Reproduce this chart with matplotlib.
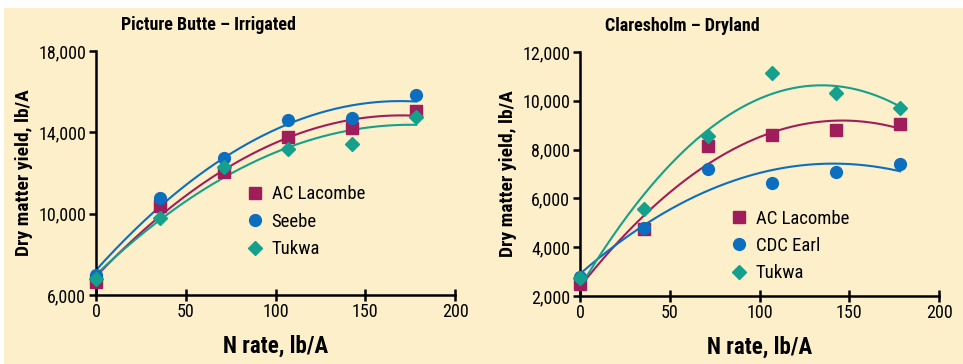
import numpy as np
import matplotlib
matplotlib.use("Agg")
import matplotlib.pyplot as plt
from matplotlib.patches import Rectangle

plt.rcParams['font.family'] = ['Roboto Condensed', 'DejaVu Sans']

# N rate, lb/A
n_rate = [0, 35.7, 71.4, 107.1, 142.7, 178.4]

# Picture Butte - Irrigated
pb_lacombe = [6640, 10380, 12050, 13790, 14230, 15050]
pb_seebe = [6970, 10760, 12720, 14590, 14700, 15840]
pb_tukwa = [6810, 9770, 12300, 13170, 13410, 14770]

# Claresholm - Dryland
cl_lacombe = [2510, 4730, 8150, 8600, 8810, 9040]
cl_earl = [2780, 4770, 7190, 6620, 7070, 7400]
cl_tukwa = [2720, 5560, 8540, 11140, 10340, 9690]

maroon = '#A01D5C'
blue = '#0B6EBE'
teal = '#14A08C'
bg = '#FCEFC9'

fig = plt.figure(figsize=(9.63, 3.64), dpi=100)
fig.patches.append(Rectangle((4 / 963, 0), 1, 1 - 8 / 364, transform=fig.transFigure,
                             facecolor=bg, edgecolor='none', zorder=-10))


def panel(rect, title, series, yticks):
    ax = fig.add_axes(rect)
    ax.set_facecolor('none')
    xs = np.linspace(0, n_rate[-1], 200)
    for label, vals, color, marker, ms in series:
        coef = np.polyfit(n_rate, vals, 2)
        ax.plot(xs, np.polyval(coef, xs), color=color, lw=1.5, zorder=2)
        ax.plot(n_rate, vals, ls='none', marker=marker, color=color, ms=ms,
                label=label, zorder=3, clip_on=False)
    ax.set_xlim(0, 200)
    ax.set_ylim(yticks[0], yticks[-1])
    ax.set_xticks([0, 50, 100, 150, 200])
    ax.set_yticks(yticks)
    ax.set_yticklabels([f'{v:,}' for v in yticks])
    for s in ['top', 'right']:
        ax.spines[s].set_visible(False)
    for s in ['left', 'bottom']:
        ax.spines[s].set_linewidth(1.8)
    ax.tick_params(axis='x', direction='inout', length=8, width=1.8, labelsize=13, pad=2)
    ax.tick_params(axis='y', direction='out', length=5, width=1.8, labelsize=13, pad=2)
    ax.set_xlabel('N rate, lb/A', fontsize=16.5, fontweight='bold', labelpad=10)
    ax.set_ylabel('Dry matter yield, lb/A', fontsize=14, fontweight='bold', labelpad=4)
    ax.text(0.07, 1.07, title, transform=ax.transAxes, fontsize=13, fontweight='bold',
            ha='left', va='bottom')
    return ax


ax1 = panel([96 / 963, 1 - 295 / 364, 359 / 963, 244 / 364], 'Picture Butte \u2013 Irrigated',
            [('AC Lacombe', pb_lacombe, maroon, 's', 8),
             ('Seebe', pb_seebe, blue, 'o', 8.5),
             ('Tukwa', pb_tukwa, teal, 'D', 7.5)],
            [6000, 10000, 14000, 18000])
ax1.legend(loc='upper left', bbox_to_anchor=(0.39, 0.48), frameon=False, fontsize=13.5,
           handletextpad=0.3, labelspacing=0.5, handlelength=1.2, borderaxespad=0)

ax2 = panel([580 / 963, 1 - 296 / 364, 359 / 963, 244 / 364], 'Claresholm \u2013 Dryland',
            [('AC Lacombe', cl_lacombe, maroon, 's', 8),
             ('CDC Earl', cl_earl, blue, 'o', 8.5),
             ('Tukwa', cl_tukwa, teal, 'D', 7.5)],
            [2000, 4000, 6000, 8000, 10000, 12000])
ax2.legend(loc='upper left', bbox_to_anchor=(0.39, 0.385), frameon=False, fontsize=13.5,
           handletextpad=0.3, labelspacing=0.5, handlelength=1.2, borderaxespad=0)

fig.savefig('out.png', dpi=100, facecolor='white')
